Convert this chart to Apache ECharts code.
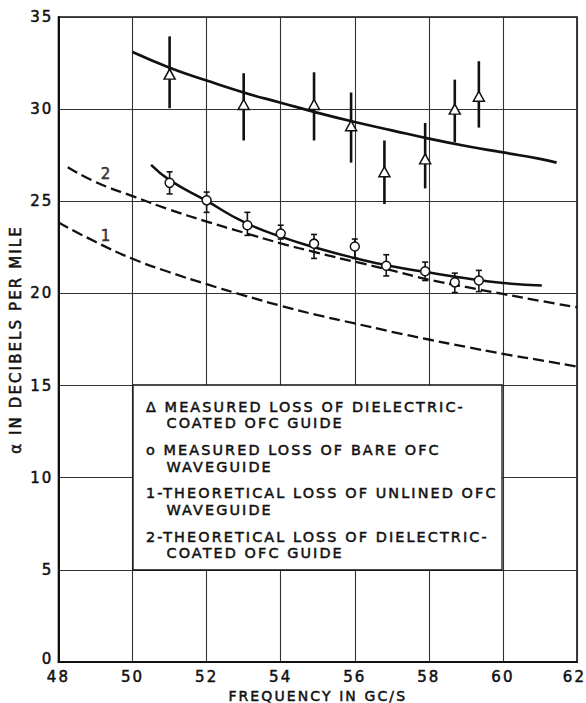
<!DOCTYPE html>
<html>
<head>
<meta charset="utf-8">
<style>
  html, body { margin: 0; padding: 0; background: #fff; }
  #chart { width: 586px; height: 703px; letter-spacing: 2.1px; }
  #chart svg text { stroke: #111; stroke-width: 0.5px; }
</style>
<script src="https://cdn.jsdelivr.net/npm/echarts@6.0.0/dist/echarts.min.js"></script>
</head>
<body>
<div id="chart"></div>
<script>
// Axis ranges: [min, max, interval]
const freqRange = [48, 62, 2];   // Gc/s
const lossRange = [0, 35, 5];    // dB per mile

// Measured loss of dielectric-coated OFC guide: [freq, loss, low, high]
const coatedMeasured = [
  [51.0, 31.9, 30.05, 33.95],
  [53.0, 30.25, 28.3, 31.95],
  [54.9, 30.25, 28.3, 32.0],
  [55.9, 29.1, 27.1, 30.9],
  [56.8, 26.6, 24.85, 28.3],
  [57.9, 27.3, 25.7, 29.25],
  [58.7, 30.0, 28.2, 31.6],
  [59.35, 30.7, 29.0, 32.6]
];

// Measured loss of bare OFC waveguide: [freq, loss, low, high]
const bareMeasured = [
  [51.0, 26.0, 25.4, 26.6],
  [52.0, 25.05, 24.4, 25.5],
  [53.1, 23.7, 23.15, 24.4],
  [54.0, 23.25, 22.95, 23.7],
  [54.9, 22.7, 21.9, 23.2],
  [56.0, 22.55, 21.9, 22.95],
  [56.85, 21.5, 20.95, 22.1],
  [57.9, 21.2, 20.7, 21.7],
  [58.7, 20.6, 20.05, 21.1],
  [59.35, 20.7, 20.1, 21.25]
];

// Curve drawn through the dielectric-coated measurements
const coatedFit = [
  [50.0, 33.1], [51, 32.25], [52, 31.55], [53, 30.9], [54, 30.35],
  [55, 29.8], [56, 29.3], [57, 28.85], [58, 28.4], [59, 28.0],
  [60, 27.65], [61, 27.3], [61.45, 27.1]
];

// Curve drawn through the bare-guide measurements
const bareFit = [
  [50.5, 26.97], [51, 26.15], [52, 25.02], [53, 23.88], [54, 23.08],
  [55, 22.45], [56, 21.92], [57, 21.47], [58, 21.13], [59, 20.82],
  [60, 20.57], [61.05, 20.43]
];

// 1 - theoretical loss of unlined OFC waveguide
const theoryUnlined = [
  [48, 23.85], [49, 22.8], [50, 21.88], [51, 21.15], [52, 20.5],
  [53, 19.9], [54, 19.33], [55, 18.82], [56, 18.37], [57, 17.92],
  [58, 17.5], [59, 17.1], [60, 16.72], [61, 16.38], [62, 16.03]
];

// 2 - theoretical loss of dielectric-coated OFC guide
const theoryCoated = [
  [48.25, 26.85], [49, 26.05], [50, 25.28], [51, 24.55], [52, 23.9],
  [53, 23.3], [54, 22.72], [55, 22.2], [56, 21.72], [57, 21.25],
  [58, 20.75], [59, 20.35], [60, 19.97], [61, 19.6], [62, 19.25]
];

// Number tags written beside the theoretical curves
const curveTags = [
  { name: '2', value: [49.3, 26.5] },
  { name: '1', value: [49.3, 23.1] }
];

// Key text, one array per entry
const keyEntries = [
  ['Δ MEASURED LOSS OF DIELECTRIC-', 'COATED OFC GUIDE'],
  ['o MEASURED LOSS OF BARE OFC', 'WAVEGUIDE'],
  ['1-THEORETICAL LOSS OF UNLINED OFC', 'WAVEGUIDE'],
  ['2-THEORETICAL LOSS OF DIELECTRIC-', 'COATED OFC GUIDE']
];

const xAxisTitle = 'FREQUENCY IN GC/S';
const yAxisTitle = 'α IN DECIBELS PER MILE';

const INK = '#111';
const FONT = '"DejaVu Sans", sans-serif';

function errorBars(capHalf, width) {
  return function (params, api) {
    const x = api.value(0);
    const lo = api.coord([x, api.value(2)]);
    const hi = api.coord([x, api.value(3)]);
    const style = { stroke: INK, lineWidth: width };
    const children = [{
      type: 'line',
      shape: { x1: lo[0], y1: lo[1], x2: hi[0], y2: hi[1] },
      style: style
    }];
    if (capHalf > 0) {
      [lo, hi].forEach(function (p) {
        children.push({
          type: 'line',
          shape: { x1: p[0] - capHalf, y1: p[1], x2: p[0] + capHalf, y2: p[1] },
          style: style
        });
      });
    }
    return { type: 'group', children: children };
  };
}

// Key box layout
const keyBox = { x: 133, y: 385, w: 369, h: 185 };
const keyFirstX = 146, keyIndentX = 166.5, keyTop = 406.7, keyEntryStep = 43.3, keyLineStep = 16.6;

const keyGraphics = [{
  type: 'rect',
  z: 50,
  shape: { x: keyBox.x, y: keyBox.y, width: keyBox.w, height: keyBox.h },
  style: { fill: '#fff', stroke: INK, lineWidth: 1.3 }
}];
keyEntries.forEach(function (lines, i) {
  lines.forEach(function (t, j) {
    keyGraphics.push({
      type: 'text',
      z: 51,
      x: j === 0 ? keyFirstX : keyIndentX,
      y: keyTop + i * keyEntryStep + j * keyLineStep,
      style: {
        text: t, fill: INK, font: '14.4px ' + FONT,
        textAlign: 'left', textVerticalAlign: 'middle'
      }
    });
  });
});

const chart = echarts.init(document.getElementById('chart'), null, { renderer: 'svg' });

chart.setOption({
  animation: false,
  backgroundColor: '#fff',
  textStyle: { fontFamily: FONT, color: INK },
  grid: {
    left: 58.5, right: 9, top: 17, bottom: 41,
    outerBoundsMode: 'none', containLabel: false,
    show: true, borderColor: INK, borderWidth: 1.6, backgroundColor: 'transparent'
  },
  xAxis: {
    type: 'value',
    min: freqRange[0], max: freqRange[1], interval: freqRange[2],
    name: xAxisTitle, nameLocation: 'middle', nameGap: 25,
    nameTextStyle: { fontSize: 14, color: INK, fontFamily: FONT },
    axisLine: { show: true, lineStyle: { color: INK, width: 2 } },
    axisTick: { show: false },
    axisLabel: {
      fontSize: 15, color: INK, margin: 7, fontFamily: FONT,
      formatter: function (v) { return v === freqRange[1] ? '{last|' + v + '}' : String(v); },
      rich: { last: { fontSize: 15, color: INK, fontFamily: FONT, padding: [0, 5, 0, 0] } }
    },
    splitLine: { show: true, lineStyle: { color: '#333', width: 1.1 } }
  },
  yAxis: {
    type: 'value',
    min: lossRange[0], max: lossRange[1], interval: lossRange[2],
    name: yAxisTitle, nameLocation: 'middle', nameGap: 12, nameRotate: 90,
    nameTextStyle: { fontSize: 15, color: INK, fontFamily: FONT },
    axisLine: { show: true, lineStyle: { color: INK, width: 2 } },
    axisTick: { show: false },
    axisLabel: {
      fontSize: 15, color: INK, margin: 5, fontFamily: FONT,
      formatter: function (v) { return v === 0 ? '{zero|0}' : String(v); },
      rich: { zero: { fontSize: 15, color: INK, fontFamily: FONT, padding: [0, 0, 7, 0] } }
    },
    splitLine: { show: true, lineStyle: { color: '#333', width: 1.1 } }
  },
  graphic: keyGraphics,
  series: [
    {
      type: 'line', data: theoryUnlined, smooth: true, showSymbol: false,
      lineStyle: { color: INK, width: 2.3, type: [11, 5] }, z: 3
    },
    {
      type: 'line', data: theoryCoated, smooth: true, showSymbol: false,
      lineStyle: { color: INK, width: 2.3, type: [11, 5] }, z: 3
    },
    {
      type: 'line', data: coatedFit, smooth: true, showSymbol: false,
      lineStyle: { color: INK, width: 2.7 }, z: 3
    },
    {
      type: 'line', data: bareFit, smooth: true, showSymbol: false,
      lineStyle: { color: INK, width: 2.5 }, z: 3
    },
    {
      type: 'custom', data: coatedMeasured, renderItem: errorBars(0, 2.6),
      encode: { x: 0, y: [2, 3] }, z: 4
    },
    {
      type: 'custom', data: bareMeasured, renderItem: errorBars(3, 1.6),
      encode: { x: 0, y: [2, 3] }, z: 4
    },
    {
      type: 'scatter', data: coatedMeasured, encode: { x: 0, y: 1 },
      symbol: 'triangle', symbolSize: [11, 10],
      itemStyle: { color: '#fff', borderColor: INK, borderWidth: 1.5, opacity: 1 }, z: 5
    },
    {
      type: 'scatter', data: bareMeasured, encode: { x: 0, y: 1 },
      symbol: 'circle', symbolSize: 9,
      itemStyle: { color: '#fff', borderColor: INK, borderWidth: 1.5, opacity: 1 }, z: 5
    },
    {
      type: 'scatter', data: curveTags, symbolSize: 0, z: 6,
      label: {
        show: true, position: 'inside', formatter: function (p) { return p.name; },
        fontSize: 15, color: INK, fontFamily: FONT
      }
    }
  ]
});
</script>
</body>
</html>
